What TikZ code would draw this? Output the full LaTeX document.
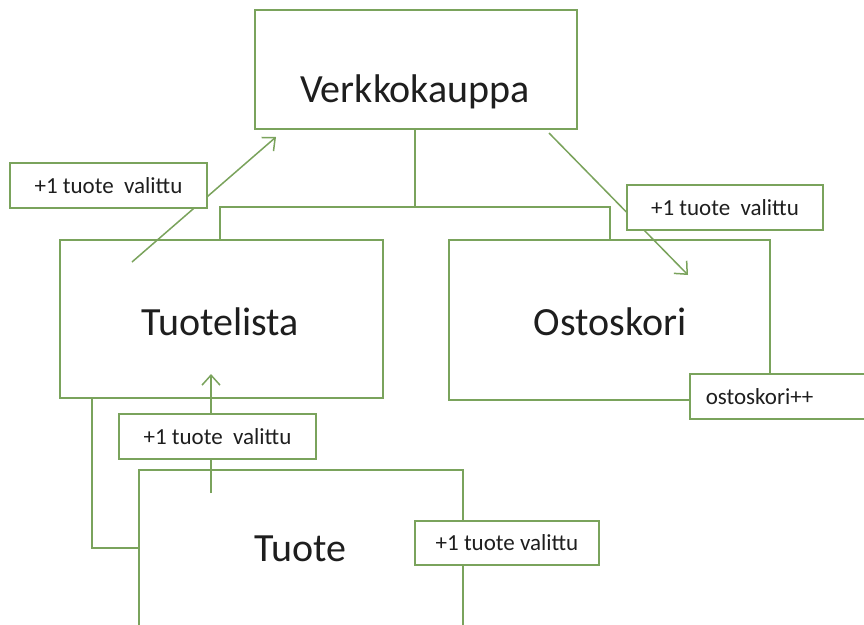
\documentclass[tikz,border=0pt]{standalone}
\usepackage{fontspec}
\setmainfont{Carlito}
\usetikzlibrary{arrows.meta}
\definecolor{lineg}{RGB}{122,163,92}
\definecolor{txt}{RGB}{30,30,30}
\tikzset{
  box/.style={draw=lineg, line width=1.5pt, rectangle, inner sep=0pt, fill=white},
  title/.style={text=txt, font=\fontsize{40}{48}\selectfont, inner sep=0pt},
  tag/.style={draw=lineg, line width=1.5pt, fill=white, text=txt, inner sep=0pt,
    font=\fontsize{23}{28}\selectfont},
  link/.style={draw=lineg, line width=1.5pt},
  flow/.style={draw=lineg, line width=1.5pt, -{Straight Barb[length=10pt,width=18pt,line width=1.5pt]}}
}
\begin{document}
\begin{tikzpicture}[x=1pt,y=-1pt]
  \useasboundingbox (0,0) rectangle (864,624);
  \clip (0,0) rectangle (864,624);
  \fill[white] (0,0) rectangle (864,624);

  % main boxes
  \node[box, minimum width=322pt, minimum height=119pt] (verk) at (416,69.5) {};
  \node[box, minimum width=323pt, minimum height=158pt] (tl) at (221.5,319) {};
  \node[box, minimum width=321pt, minimum height=160pt] (os) at (609.5,320) {};
  \node[box, minimum width=324pt, minimum height=190pt] (tuote) at (301,565) {};

  \node[title] (verkT) at (415,92) {Verkkokauppa};
  \node[title] (tlT) at (220,322) {Tuotelista};
  \node[title] (osT) at (610,322) {Ostoskori};
  \node[title] (tuoteT) at (300,549) {Tuote};

  % hierarchy lines
  \coordinate (j) at (415,207);
  \draw[link] (verk.south -| j) -- (j);
  \draw[link] ([xshift=-1.5pt]tl.north) |- (j) -| ([xshift=0.5pt]os.north);
  \coordinate (c1) at (92,548);
  \draw[link] (tl.south -| c1) -- (c1) -- (c1 -| tuote.west);

  % event arrows
  \coordinate (a1s) at (132,262);
  \coordinate (a1e) at (276,137);
  \draw[flow] (a1s) -- (a1e);
  \coordinate (a2s) at (549,133);
  \coordinate (a2e) at (688,275);
  \draw[flow] (a2s) -- (a2e);
  \coordinate (a3s) at (211,493);
  \coordinate (a3e) at (211,374);
  \draw[flow] (a3s) -- (a3e);

  % labels
  \node[tag, minimum width=197pt, minimum height=45pt] (l1) at (108.5,185.5) {+1 tuote\ \ valittu};
  \node[tag, minimum width=196pt, minimum height=45pt] (l2) at (725,207.5) {+1 tuote\ \ valittu};
  \node[tag, minimum width=197pt, minimum height=45pt] (l3) at (217.5,436.5) {+1 tuote\ \ valittu};
  \node[tag, minimum width=184pt, minimum height=44pt] (l4) at (507,543) {+1 tuote valittu};
  \node[tag, minimum height=45pt, anchor=west, inner xsep=16pt, text width=154pt, align=left] (l5) at (689,396.5) {ostoskori++};
\end{tikzpicture}
\end{document}
